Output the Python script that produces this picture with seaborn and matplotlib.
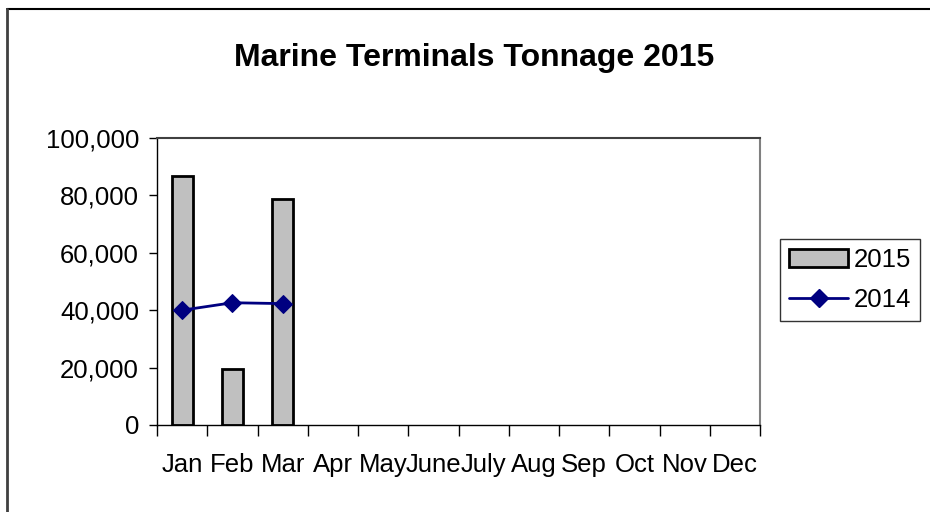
import numpy as np
import pandas as pd
import matplotlib
matplotlib.use("Agg")
import matplotlib.pyplot as plt
from matplotlib.lines import Line2D
from matplotlib.patches import Patch
import matplotlib.ticker as mticker
import seaborn as sns

# ── Data ──────────────────────────────────────────────────────────────────────
MONTHS = ["Jan", "Feb", "Mar", "Apr", "May", "June",
          "July", "Aug", "Sep", "Oct", "Nov", "Dec"]
TONS_2015 = [86800, 19500, 78800]      # only Q1 reported so far
TONS_2014 = [40000, 42600, 42300]
Y_TICKS = [0, 20000, 40000, 60000, 80000, 100000]
TITLE = "Marine Terminals Tonnage 2015"

BAR_GREY = "#c0c0c0"
NAVY = "#000080"

sns.set_style("white")
plt.rcParams["font.family"] = ["Liberation Sans", "DejaVu Sans"]
plt.rcParams["text.color"] = "black"
plt.rcParams["xtick.color"] = "black"
plt.rcParams["ytick.color"] = "black"

W, H = 930, 512
fig = plt.figure(figsize=(W / 100, H / 100), dpi=100)

# outer chart frame (only top + left edges visible in the crop)
fig.add_artist(Line2D([7 / W, 1.0], [1 - 9 / H, 1 - 9 / H],
                      color="black", lw=1.5, transform=fig.transFigure))
fig.add_artist(Line2D([7 / W, 7 / W], [0.0, 1 - 9 / H],
                      color="#404040", lw=2.0, transform=fig.transFigure))

ax = fig.add_axes([157 / W, (H - 425) / H, 603 / W, 287 / H])

df15 = pd.DataFrame({"month": MONTHS[:len(TONS_2015)], "tons": TONS_2015})
sns.barplot(data=df15, x="month", y="tons", order=MONTHS, color=BAR_GREY,
            saturation=1, width=0.42, edgecolor="black", linewidth=2.0, ax=ax)

df14 = pd.DataFrame({"pos": np.arange(len(TONS_2014)), "tons": TONS_2014})
sns.lineplot(data=df14, x="pos", y="tons", color=NAVY, lw=2.0,
             marker="D", markersize=9, markeredgecolor=NAVY, ax=ax)

ax.set_xlim(-0.5, len(MONTHS) - 0.5)
ax.set_ylim(0, 100000)
ax.set_yticks(Y_TICKS)
ax.yaxis.set_major_formatter(mticker.FuncFormatter(lambda v, _: f"{int(v):,}"))
ax.set_xticks(range(len(MONTHS)))
ax.set_xticklabels(MONTHS)
ax.set_xticks(np.arange(-0.5, len(MONTHS)), minor=True)
ax.tick_params(axis="x", which="major", length=0, pad=20, labelsize=18.5,
               labelcolor="black")
ax.tick_params(axis="x", which="minor", length=8, width=1, color="black",
               direction="out", bottom=True)
ax.tick_params(axis="y", length=6, width=1, color="black", direction="out",
               left=True, pad=7, labelsize=18.5, labelcolor="black")
ax.set_xlabel("")
ax.set_ylabel("")

for side in ("left", "bottom"):
    ax.spines[side].set_color("black")
    ax.spines[side].set_linewidth(1.0)
ax.spines["top"].set_color("#404040")
ax.spines["right"].set_color("#808080")
for side in ("top", "right"):
    ax.spines[side].set_linewidth(1.5)

fig.text(474 / W, 1 - 58 / H, TITLE, ha="center", va="center",
         fontsize=23, fontweight="bold", color="black")

handles = [Patch(facecolor=BAR_GREY, edgecolor="black", linewidth=2.0),
           Line2D([], [], color=NAVY, lw=2.0, marker="D", markersize=9)]
leg = fig.legend(handles, ["2015", "2014"], loc="center",
                 bbox_to_anchor=(850 / W, 1 - 280 / H), fontsize=18.5,
                 frameon=True, fancybox=False, edgecolor="black",
                 handlelength=2.3, handletextpad=0.2, borderpad=0.35,
                 labelspacing=0.6, borderaxespad=0)
leg.get_frame().set_linewidth(1.0)

fig.savefig("out.png", dpi=100)
plt.close(fig)
